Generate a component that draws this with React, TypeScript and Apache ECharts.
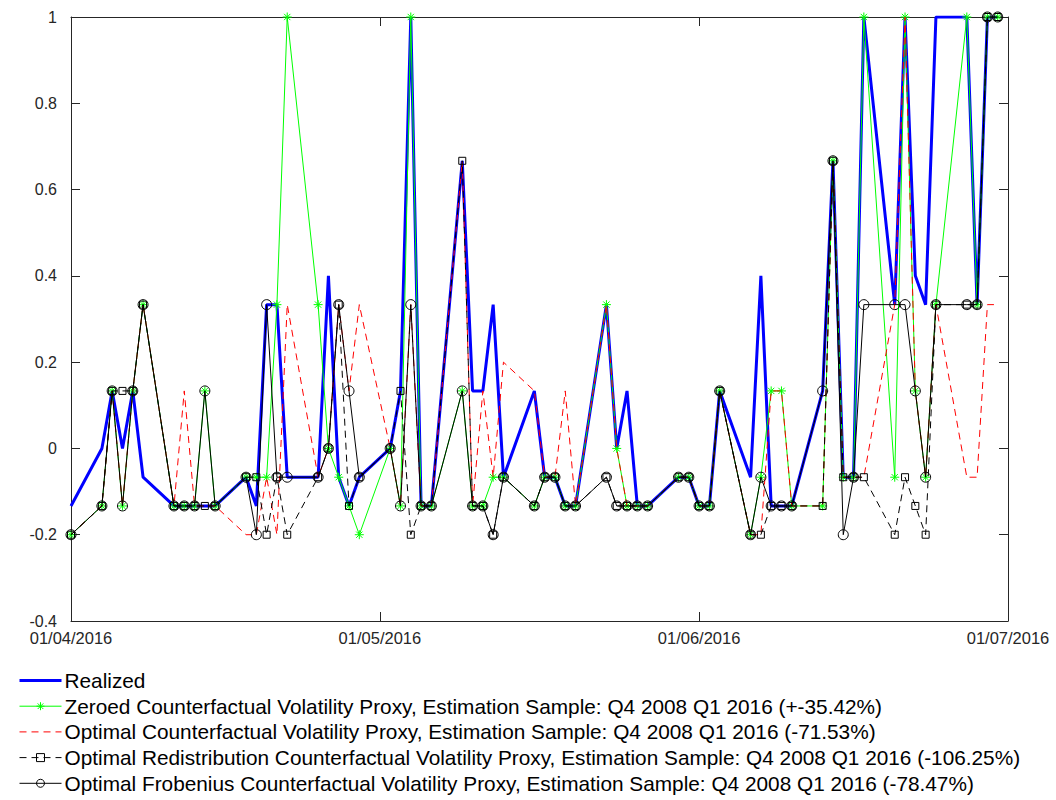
import React, { useEffect, useRef } from "react";
import * as echarts from "echarts";

// ---- data ----
const dates = [
  "2016-04-01", "2016-04-04", "2016-04-05", "2016-04-06", "2016-04-07", "2016-04-08",
  "2016-04-11", "2016-04-12", "2016-04-13", "2016-04-14", "2016-04-15",
  "2016-04-18", "2016-04-19", "2016-04-20", "2016-04-21", "2016-04-22",
  "2016-04-25", "2016-04-26", "2016-04-27", "2016-04-28", "2016-04-29",
  "2016-05-02", "2016-05-03", "2016-05-04", "2016-05-05", "2016-05-06",
  "2016-05-09", "2016-05-10", "2016-05-11", "2016-05-12", "2016-05-13",
  "2016-05-16", "2016-05-17", "2016-05-18", "2016-05-19", "2016-05-20",
  "2016-05-23", "2016-05-24", "2016-05-25", "2016-05-26", "2016-05-27",
  "2016-05-30", "2016-05-31", "2016-06-01", "2016-06-02", "2016-06-03",
  "2016-06-06", "2016-06-07", "2016-06-08", "2016-06-09", "2016-06-10",
  "2016-06-13", "2016-06-14", "2016-06-15", "2016-06-16", "2016-06-17",
  "2016-06-20", "2016-06-21", "2016-06-22", "2016-06-23", "2016-06-24",
  "2016-06-27", "2016-06-28", "2016-06-29", "2016-06-30",
];

const realized = [
  -0.1333, 0, 0.1333, 0, 0.1333, -0.0667,
  -0.1333, -0.1333, -0.1333, -0.1333, -0.1333,
  -0.0667, -0.1333, 0.3333, 0.3333, -0.0667,
  -0.0667, 0.4, -0.0667, -0.1333, -0.0667,
  0, 0.1333, 1, -0.1333, -0.1333,
  0.6667, 0.1333, 0.1333, 0.3333, -0.0667,
  0.1333, -0.0667, -0.0667, -0.1333, -0.1333,
  0.3333, 0, 0.1333, -0.1333, -0.1333,
  -0.0667, -0.0667, -0.1333, -0.1333, 0.1333,
  -0.0667, 0.4, -0.1333, -0.1333, -0.1333,
  0.1333, 0.6667, -0.0667, -0.0667, 1,
  0.3333, 1, 0.4, 0.3333, 1,
  1, 0.3333, 1, 1,
];

const zeroed = [
  -0.2, -0.1333, 0.1333, -0.1333, 0.1333, 0.3333,
  -0.1333, -0.1333, -0.1333, 0.1333, -0.1333,
  -0.0667, -0.0667, -0.0667, 0.3333, 1,
  0.3333, 0, -0.0667, -0.1333, -0.2,
  0, -0.1333, 1, -0.1333, -0.1333,
  0.1333, -0.1333, -0.1333, -0.0667, -0.0667,
  -0.1333, -0.0667, -0.0667, -0.1333, -0.1333,
  0.3333, 0, -0.1333, -0.1333, -0.1333,
  -0.0667, -0.0667, -0.1333, -0.1333, 0.1333,
  -0.2, -0.0667, 0.1333, 0.1333, -0.1333,
  -0.1333, 0.6667, -0.0667, -0.0667, 1,
  -0.0667, 1, 0.1333, -0.0667, 0.3333,
  1, 0.3333, 1, 1,
];

const optimal = [
  -0.2, -0.1333, 0.1333, -0.1333, 0.1333, 0.3333,
  -0.1333, 0.1333, -0.1333, -0.1333, -0.1333,
  -0.2, -0.2, -0.0667, -0.2, 0.3333,
  -0.0667, 0, 0.3333, 0.1333, 0.3333,
  0, -0.1333, 0.3333, -0.1333, -0.1333,
  0.6667, -0.1333, 0.1333, -0.0667, 0.2,
  0.1333, -0.0667, -0.0667, 0.1333, -0.1333,
  0.3333, 0, -0.1333, -0.1333, -0.1333,
  -0.0667, -0.0667, -0.1333, -0.1333, 0.1333,
  -0.2, -0.2, 0.1333, 0.1333, -0.1333,
  -0.1333, 0.6667, -0.0667, -0.0667, -0.0667,
  0.3333, 1, 0.1333, -0.0667, 0.3333,
  -0.0667, -0.0667, 0.3333, 0.3333,
];

const redistribution = [
  -0.2, -0.1333, 0.1333, 0.1333, 0.1333, 0.3333,
  -0.1333, -0.1333, -0.1333, -0.1333, -0.1333,
  -0.0667, -0.0667, -0.2, -0.0667, -0.2,
  -0.0667, 0, 0.3333, -0.1333, -0.0667,
  0, 0.1333, -0.2, -0.1333, -0.1333,
  0.6667, -0.1333, -0.1333, -0.2, -0.0667,
  -0.1333, -0.0667, -0.0667, -0.1333, -0.1333,
  -0.0667, -0.1333, -0.1333, -0.1333, -0.1333,
  -0.0667, -0.0667, -0.1333, -0.1333, 0.1333,
  -0.2, -0.2, -0.1333, -0.1333, -0.1333,
  -0.1333, 0.6667, -0.0667, -0.0667, -0.0667,
  -0.2, -0.0667, -0.1333, -0.2, 0.3333,
  0.3333, 0.3333, 1, 1,
];

const frobenius = [
  -0.2, -0.1333, 0.1333, -0.1333, 0.1333, 0.3333,
  -0.1333, -0.1333, -0.1333, 0.1333, -0.1333,
  -0.0667, -0.2, 0.3333, -0.0667, -0.0667,
  -0.0667, 0, 0.3333, 0.1333, -0.0667,
  0, -0.1333, 0.3333, -0.1333, -0.1333,
  0.1333, -0.1333, -0.1333, -0.2, -0.0667,
  -0.1333, -0.0667, -0.0667, -0.1333, -0.1333,
  -0.0667, -0.1333, -0.1333, -0.1333, -0.1333,
  -0.0667, -0.0667, -0.1333, -0.1333, 0.1333,
  -0.2, -0.0667, -0.1333, -0.1333, -0.1333,
  0.1333, 0.6667, -0.2, -0.0667, 0.3333,
  0.3333, 0.3333, 0.1333, -0.0667, 0.3333,
  0.3333, 0.3333, 1, 1,
];

const seriesNames = [
  "Realized",
  "Zeroed Counterfactual Volatility Proxy, Estimation Sample: Q4 2008 Q1 2016 (+-35.42%)",
  "Optimal Counterfactual Volatility Proxy, Estimation Sample: Q4 2008 Q1 2016 (-71.53%)",
  "Optimal Redistribution Counterfactual Volatility Proxy, Estimation Sample: Q4 2008 Q1 2016 (-106.25%)",
  "Optimal Frobenius Counterfactual Volatility Proxy, Estimation Sample: Q4 2008 Q1 2016 (-78.47%)",
];

const xTickDates = ["2016-04-01", "2016-05-01", "2016-06-01", "2016-07-01"];
const yMin = -0.4;
const yMax = 1;
const yStep = 0.2;

// ---- helpers ----
const toTs = (s: string) => {
  const [y, m, d] = s.split("-").map(Number);
  return Date.UTC(y, m - 1, d);
};
const fmtDate = (v: number) => {
  const dt = new Date(v);
  const dd = String(dt.getUTCDate()).padStart(2, "0");
  const mm = String(dt.getUTCMonth() + 1).padStart(2, "0");
  return `${dd}/${mm}/${dt.getUTCFullYear()}`;
};
const pairs = (vals: number[]) => dates.map((d, i) => [toTs(d), vals[i]]);

const FONT = "'Liberation Sans', Arial, Helvetica, sans-serif";
const AXIS = "#262626";
const ASTERISK = "path://M5,0L5,10M0,5L10,5M1.5,1.5L8.5,8.5M1.5,8.5L8.5,1.5";
const CLEAR = "rgba(0,0,0,0)";

export default function App() {
  const ref = useRef<HTMLDivElement>(null);

  useEffect(() => {
    if (!ref.current) return;
    const chart = echarts.init(ref.current, undefined, { renderer: "svg" });
    const xTicks = xTickDates.map(toTs);
    const xMin = xTicks[0];
    const xMax = xTicks[xTicks.length - 1];

    const xBase = {
      type: "value",
      min: xMin,
      max: xMax,
      axisLine: { show: true, onZero: false, lineStyle: { color: AXIS, width: 1 } },
      axisTick: { show: true, inside: true, length: 9, customValues: xTicks, lineStyle: { color: AXIS } },
      splitLine: { show: false },
      minorTick: { show: false },
    };
    const yBase = {
      type: "value",
      min: yMin,
      max: yMax,
      interval: yStep,
      axisLine: { show: true, onZero: false, lineStyle: { color: AXIS, width: 1 } },
      axisTick: { show: true, inside: true, length: 9, lineStyle: { color: AXIS } },
      splitLine: { show: false },
    };

    chart.setOption({
      animation: false,
      backgroundColor: "#ffffff",
      grid: { left: 71, right: 48, top: 17, bottom: 179 },
      xAxis: [
        {
          ...xBase,
          position: "bottom",
          axisLabel: {
            customValues: xTicks,
            formatter: (v: number) => fmtDate(v),
            color: AXIS,
            fontSize: 16.5,
            fontFamily: FONT,
            margin: 8,
            hideOverlap: false,
          },
        },
        { ...xBase, position: "top", axisLabel: { show: false } },
      ],
      yAxis: [
        {
          ...yBase,
          position: "left",
          axisLabel: { color: AXIS, fontSize: 16, fontFamily: FONT, margin: 14 },
        },
        { ...yBase, position: "right", axisLabel: { show: false } },
      ],
      legend: {
        orient: "vertical",
        left: 18,
        top: 670,
        padding: 0,
        itemWidth: 42,
        itemHeight: 10,
        itemGap: 4.7,
        selectedMode: false,
        lineStyle: { width: 1 },
        textStyle: { fontSize: 20.8, color: "#000", fontFamily: FONT, padding: [0, 0, 0, -2] },
        data: [
          {
            name: seriesNames[0],
            lineStyle: { width: 3 },
            itemStyle: { color: CLEAR, borderColor: CLEAR, borderWidth: 0 },
          },
          { name: seriesNames[1], itemStyle: { borderWidth: 1 } },
          {
            name: seriesNames[2],
            lineStyle: { width: 1 },
            itemStyle: { color: CLEAR, borderColor: CLEAR, borderWidth: 0 },
          },
          { name: seriesNames[3], itemStyle: { borderWidth: 1 } },
          { name: seriesNames[4], itemStyle: { borderWidth: 1 } },
        ],
      },
      series: [
        {
          name: seriesNames[0],
          type: "line",
          data: pairs(realized),
          symbol: "none",
          lineStyle: { color: "#0000ff", width: 3 },
          itemStyle: { color: "#0000ff" },
          z: 2,
        },
        {
          name: seriesNames[1],
          type: "line",
          data: pairs(zeroed),
          symbol: ASTERISK,
          symbolSize: 9,
          showAllSymbol: true,
          lineStyle: { color: "#00ff00", width: 1 },
          itemStyle: { color: CLEAR, borderColor: "#00ff00", borderWidth: 1 },
          z: 3,
        },
        {
          name: seriesNames[2],
          type: "line",
          data: pairs(optimal),
          symbol: "none",
          lineStyle: { color: "#ff0000", width: 1, type: [7, 5] },
          itemStyle: { color: "#ff0000" },
          z: 4,
        },
        {
          name: seriesNames[3],
          type: "line",
          data: pairs(redistribution),
          symbol: "rect",
          symbolSize: 7,
          showAllSymbol: true,
          lineStyle: { color: "#000000", width: 1, type: [7, 5] },
          itemStyle: { color: CLEAR, borderColor: "#000000", borderWidth: 1 },
          z: 5,
        },
        {
          name: seriesNames[4],
          type: "line",
          data: pairs(frobenius),
          symbol: "circle",
          symbolSize: 10,
          showAllSymbol: true,
          lineStyle: { color: "#000000", width: 1 },
          itemStyle: { color: CLEAR, borderColor: "#000000", borderWidth: 1 },
          z: 6,
        },
      ],
    });

    return () => chart.dispose();
  }, []);

  return (
    <div
      ref={ref}
      style={{ position: "fixed", left: 0, top: 0, width: 1056, height: 800, background: "#fff" }}
    />
  );
}
